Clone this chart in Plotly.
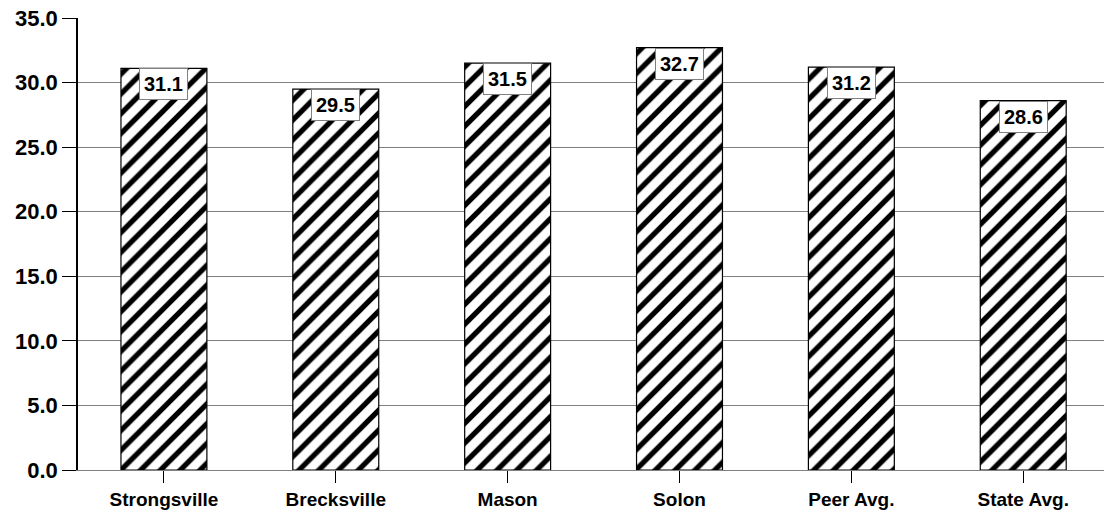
import plotly.graph_objects as go

categories = ["Strongsville", "Brecksville", "Mason", "Solon", "Peer Avg.", "State Avg."]
values = [31.1, 29.5, 31.5, 32.7, 31.2, 28.6]
y_ticks = [0, 5, 10, 15, 20, 25, 30, 35]
y_tick_labels = [f"{v:.1f}" for v in y_ticks]

FONT = "Arial, Liberation Sans, sans-serif"

fig = go.Figure()
fig.add_trace(go.Bar(
    x=categories,
    y=values,
    width=0.5,
    marker=dict(
        color="white",
        line=dict(color="black", width=1.2),
        pattern=dict(shape="/", fgcolor="black", bgcolor="white", fgopacity=1,
                     size=14, solidity=0.38),
    ),
    hoverinfo="skip",
))

for c, v in zip(categories, values):
    fig.add_annotation(
        x=c, y=v, yanchor="top", yshift=0,
        text=f"<b>{v:.1f}</b>",
        showarrow=False,
        font=dict(family=FONT, size=20, color="black"),
        bgcolor="white", bordercolor="#808080", borderwidth=1, borderpad=4,
    )

fig.update_layout(
    width=1104, height=514,
    margin=dict(l=78, r=0, t=18, b=44),
    paper_bgcolor="white", plot_bgcolor="white",
    showlegend=False,
)
fig.update_xaxes(
    range=[-0.5, 5.47],
    showgrid=False,
    showline=True, linecolor="#808080", linewidth=1,
    ticks="outside", ticklen=12, tickcolor="black",
    tickfont=dict(family=FONT, size=19, color="black"),
    tickprefix="<b>", ticksuffix="</b>",
)
fig.update_yaxes(
    range=[0, 35],
    tickvals=y_ticks, ticktext=[f"<b>{t}</b>" for t in y_tick_labels],
    showgrid=True, gridcolor="#808080", gridwidth=1,
    showline=True, linecolor="black", linewidth=1.5,
    ticks="outside", ticklen=14, tickcolor="black",
    tickfont=dict(family=FONT, size=22, color="black"),
    zeroline=False,
)

fig.write_html("out.html")
